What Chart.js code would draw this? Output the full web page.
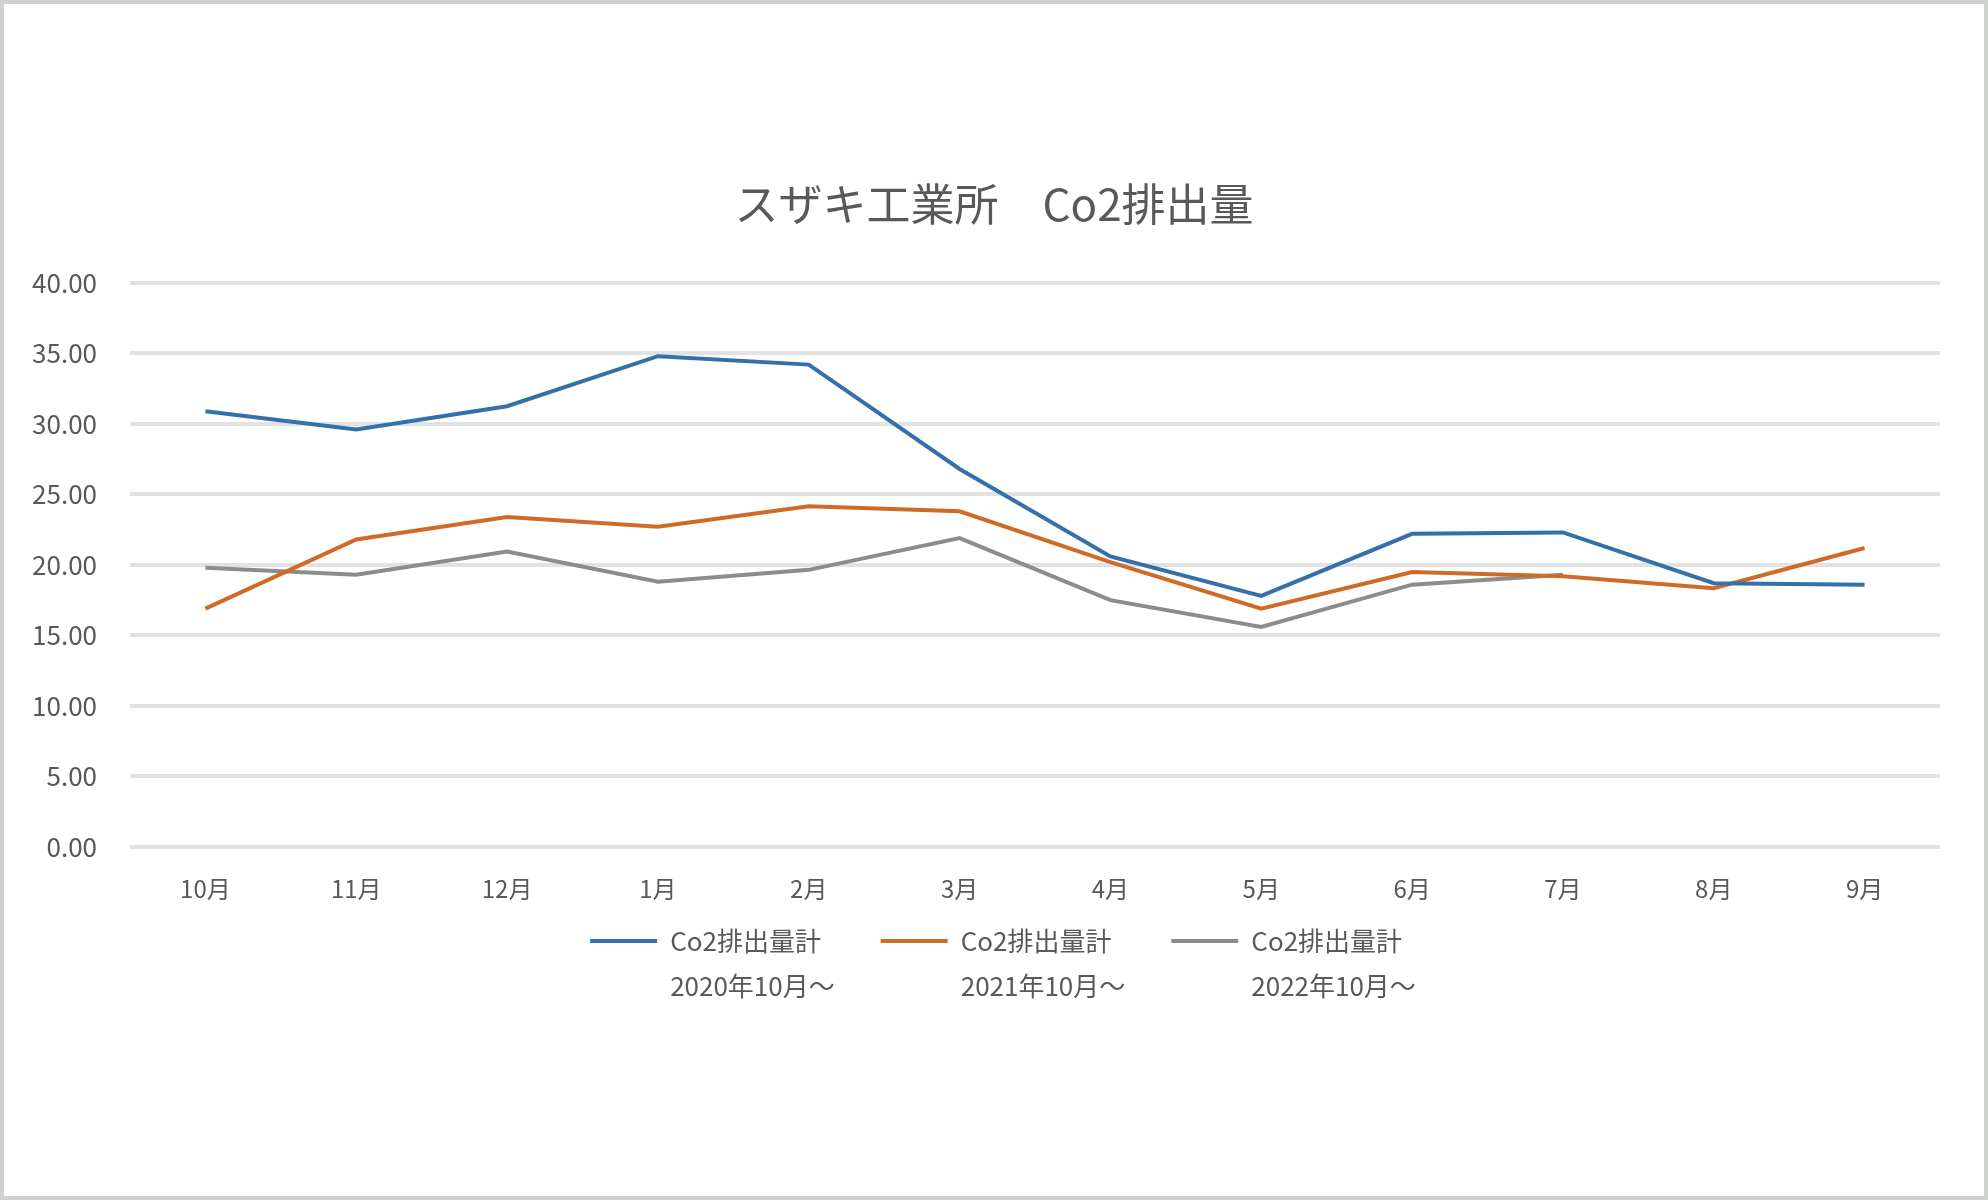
<!DOCTYPE html>
<html lang="ja">
<head>
<meta charset="utf-8">
<title>スザキ工業所 Co2排出量</title>
<script src="https://cdn.jsdelivr.net/npm/chart.js@4.4.1/dist/chart.umd.min.js"></script>
<style>
  html, body { margin: 0; padding: 0; background: #fff; }
  #wrap { position: relative; width: 1988px; height: 1200px; overflow: hidden; }
  #wrap canvas { position: absolute; left: 0; top: 0; }
  #frame {
    position: absolute; left: 0; top: 0; width: 1988px; height: 1200px;
    box-sizing: border-box; border: 4px solid #cfd1cf; pointer-events: none;
  }
</style>
</head>
<body>
<div id="wrap">
  <canvas id="co2Chart" width="1988" height="1200"></canvas>
  <div id="frame"></div>
</div>
<script>
// values
const months = ["10月", "11月", "12月", "1月", "2月", "3月", "4月", "5月", "6月", "7月", "8月", "9月"];

const co2From2020 = [30.9, 29.6, 31.25, 34.8, 34.2, 26.8, 20.6, 17.8, 22.2, 22.3, 18.7, 18.6];
const co2From2021 = [16.9, 21.8, 23.4, 22.7, 24.15, 23.8, 20.2, 16.9, 19.5, 19.2, 18.35, 21.2];
const co2From2022 = [19.8, 19.3, 20.95, 18.8, 19.65, 21.9, 17.5, 15.6, 18.6, 19.3, null, null];

const seriesName   = "Co2排出量計";
const seriesStarts = ["2020年10月〜", "2021年10月〜", "2022年10月〜"];
const lineColors   = ["#3570aa", "#cf6a27", "#8c8c8c"];

const yTickValues = [0, 5, 10, 15, 20, 25, 30, 35, 40];

const chartTitle = "スザキ工業所　Co2排出量";

const FONT = "'Noto Sans CJK JP', 'Noto Sans', sans-serif";
const TEXT_GRAY = "#595959";

Chart.defaults.font.family = FONT;
Chart.defaults.color = TEXT_GRAY;

const seriesData = [co2From2020, co2From2021, co2From2022];

const datasets = seriesData.map((values, i) => ({
  label: seriesName + " " + seriesStarts[i],
  data: values,
  borderColor: lineColors[i],
  backgroundColor: lineColors[i],
  borderWidth: 4,
  pointRadius: 0,
  tension: 0,
  yAxisID: "y"
}));

// two-line legend label; the legend measures it as one string,
// so give it the longer line (plus a little gap) to measure
function legendText(i) {
  const lines = [seriesName, seriesStarts[i]];
  lines.toString = () => seriesStarts[i] + "　";
  return lines;
}

// the legend clips to its own box, which only counts one text line;
// also nudge it right to make up for the blank room after the last item
const legendRoom = {
  id: "legendRoom",
  afterLayout(chart) {
    const lg = chart.legend;
    if (!lg) return;
    lg.bottom += 70;
    lg.height += 70;
    lg.left += 22;
    lg.right += 22;
  }
};

const ctx = document.getElementById("co2Chart").getContext("2d");

new Chart(ctx, {
  type: "line",
  data: { labels: months, datasets },
  plugins: [legendRoom],
  options: {
    responsive: false,
    animation: false,
    layout: { padding: { left: 0, right: 0, top: 0, bottom: 236 } },
    scales: {
      x: {
        offset: true,
        grid: { display: false },
        border: { display: false },
        ticks: { padding: 19, font: { size: 24 }, color: TEXT_GRAY, maxRotation: 0 },
        afterFit(axis) { axis.height = 61; }
      },
      y: {
        min: yTickValues[0],
        max: yTickValues[yTickValues.length - 1],
        grid: { color: "#e2e2e2", lineWidth: 4, drawTicks: false },
        border: { display: false },
        ticks: {
          stepSize: yTickValues[1] - yTickValues[0],
          padding: 33,
          font: { size: 26 },
          color: TEXT_GRAY,
          callback: v => Number(v).toFixed(2)
        },
        afterFit(axis) { axis.width = 130; }
      },
      // empty right margin so title and legend stay centred on the whole picture
      yRight: {
        position: "right",
        grid: { display: false },
        border: { display: false },
        ticks: { display: false },
        afterFit(axis) { axis.width = 48; }
      }
    },
    plugins: {
      title: {
        display: true,
        text: chartTitle,
        color: TEXT_GRAY,
        font: { size: 44, weight: "normal" },
        padding: { top: 178, bottom: 52 }
      },
      legend: {
        position: "bottom",
        labels: {
          boxWidth: 67,
          boxHeight: 4,
          padding: 20,
          color: TEXT_GRAY,
          font: { size: 26, lineHeight: 1.75 },
          generateLabels(chart) {
            return Chart.defaults.plugins.legend.labels.generateLabels(chart).map((item, i) => ({
              ...item,
              text: legendText(i),
              fillStyle: lineColors[i],
              lineWidth: 0
            }));
          }
        }
      },
      tooltip: { enabled: false }
    }
  }
});
</script>
</body>
</html>
